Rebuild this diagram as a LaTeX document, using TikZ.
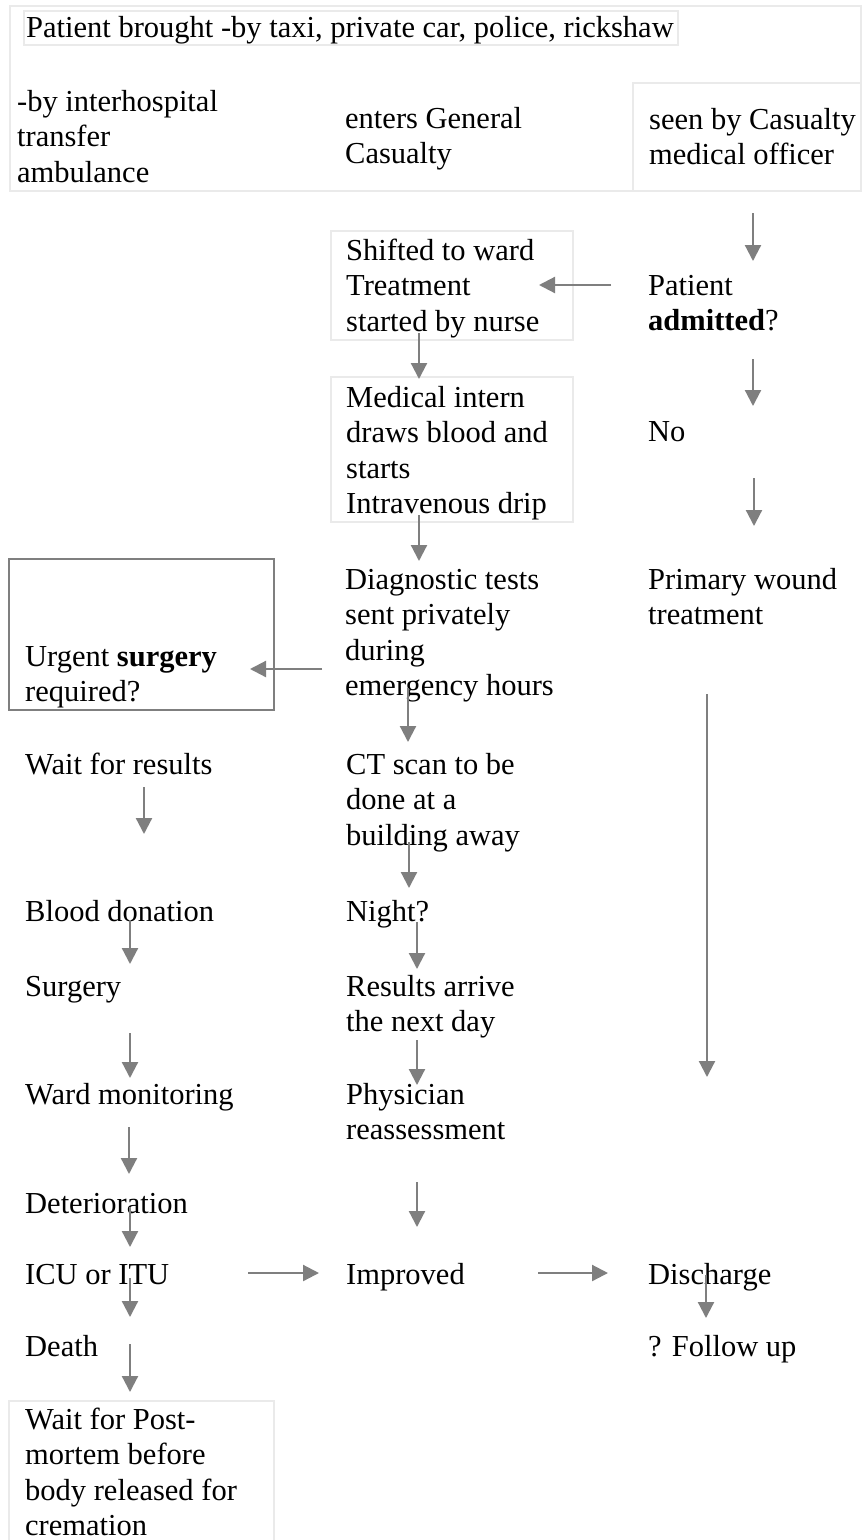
\documentclass[tikz,border=0pt]{standalone}
\usepackage{fontspec}
\setmainfont{Liberation Serif}
\usetikzlibrary{arrows.meta}
\newcommand\fsz{\fontsize{30.5}{35.5}\selectfont}
\definecolor{arrgray}{HTML}{7F7F7F}
\definecolor{boxlight}{HTML}{EAEAEA}
\begin{document}
\begin{tikzpicture}[x=1pt,y=-1pt,
  txt/.style={anchor=north west, inner sep=0pt, align=left, font=\fsz},
  lightbox/.style={draw=boxlight, line width=1.5pt},
  darkbox/.style={draw=arrgray, line width=1.5pt},
  arr/.style={draw=arrgray, line width=2.2pt, -{Triangle[width=16pt,length=16pt]}}]
\useasboundingbox (0,0) rectangle (862,1540);
\fill[white] (0,0) rectangle (862,1540);
% boxes
\draw[lightbox] (10,6) rectangle (861,191);
\draw[lightbox] (24,11) rectangle (678,45);
\draw[lightbox] (633,83) rectangle (862,191);
\draw[lightbox] (331,231) rectangle (573,340);
\draw[lightbox] (331,377) rectangle (573,522);
\draw[darkbox] (9,559) rectangle (274,710);
\draw[lightbox] (9,1401) rectangle (274,1550);
% texts
\node[txt] (top) at (26,12) {\strut Patient brought -by taxi, private car, police, rickshaw};
\node[txt] (inter) at (17,86) {\strut -by interhospital\\transfer\\ambulance};
\node[txt] (enters) at (345,103) {\strut enters General\\Casualty};
\node[txt] (seen) at (649,104) {\strut seen by Casualty\\medical officer};
\node[txt] (shifted) at (346,235) {\strut Shifted to ward\\Treatment\\started by nurse};
\node[txt] (admitted) at (648,270) {\strut Patient\\\textbf{admitted}?};
\node[txt] (medical) at (346,382) {\strut Medical intern\\draws blood and\\starts\\Intravenous drip};
\node[txt] (no) at (648,416) {\strut No};
\node[txt] (diag) at (345,564) {\strut Diagnostic tests\\sent privately\\during\\emergency hours};
\node[txt] (primary) at (648,564) {\strut Primary wound\\treatment};
\node[txt] (urgent) at (25,641) {\strut Urgent \textbf{surgery}\\required?};
\node[txt] (wait) at (25,749) {\strut Wait for results};
\node[txt] (ct) at (346,749) {\strut CT scan to be\\done at a\\building away};
\node[txt] (blood) at (25,896) {\strut Blood donation};
\node[txt] (night) at (346,896) {\strut Night?};
\node[txt] (surgery) at (25,971) {\strut Surgery};
\node[txt] (results) at (346,971) {\strut Results arrive\\the next day};
\node[txt] (ward) at (25,1079) {\strut Ward monitoring};
\node[txt] (phys) at (346,1079) {\strut Physician\\reassessment};
\node[txt] (deter) at (25,1188) {\strut Deterioration};
\node[txt] (icu) at (25,1259) {\strut ICU or ITU};
\node[txt] (improved) at (346,1259) {\strut Improved};
\node[txt] (discharge) at (648,1259) {\strut Discharge};
\node[txt] (death) at (25,1331) {\strut Death};
\node[txt] (follow) at (648,1331) {\strut ? Follow up};
\node[txt] (post) at (25,1404) {\strut Wait for Post-\\mortem before\\body released for\\cremation};
% arrow end points
\coordinate (a1s) at (753,213);  \coordinate (a1e) at (753,261);
\coordinate (a2s) at (611,285);  \coordinate (a2e) at (539,285);
\coordinate (a3s) at (419,333);  \coordinate (a3e) at (419,379);
\coordinate (a4s) at (753,359);  \coordinate (a4e) at (753,406);
\coordinate (a5s) at (754,478);  \coordinate (a5e) at (754,526);
\coordinate (a6s) at (419,515);  \coordinate (a6e) at (419,561);
\coordinate (a7s) at (322,669);  \coordinate (a7e) at (250,669);
\coordinate (a8s) at (408,688);  \coordinate (a8e) at (408,742);
\coordinate (a9s) at (707,694);  \coordinate (a9e) at (707,1077);
\coordinate (a10s) at (144,787); \coordinate (a10e) at (144,834);
\coordinate (a11s) at (409,842); \coordinate (a11e) at (409,888);
\coordinate (a12s) at (130,920); \coordinate (a12e) at (130,964);
\coordinate (a13s) at (417,922); \coordinate (a13e) at (417,969);
\coordinate (a14s) at (130,1033); \coordinate (a14e) at (130,1078);
\coordinate (a15s) at (417,1040); \coordinate (a15e) at (417,1085);
\coordinate (a16s) at (129,1127); \coordinate (a16e) at (129,1174);
\coordinate (a17s) at (417,1182); \coordinate (a17e) at (417,1227);
\coordinate (a18s) at (130,1207); \coordinate (a18e) at (130,1247);
\coordinate (a19s) at (248,1273); \coordinate (a19e) at (319,1273);
\coordinate (a20s) at (538,1273); \coordinate (a20e) at (608,1273);
\coordinate (a21s) at (130,1278); \coordinate (a21e) at (130,1317);
\coordinate (a22s) at (706,1275); \coordinate (a22e) at (706,1318);
\coordinate (a23s) at (130,1344); \coordinate (a23e) at (130,1392);
\foreach \i in {1,...,23} {\draw[arr] (a\i s) -- (a\i e);}
\end{tikzpicture}
\end{document}
